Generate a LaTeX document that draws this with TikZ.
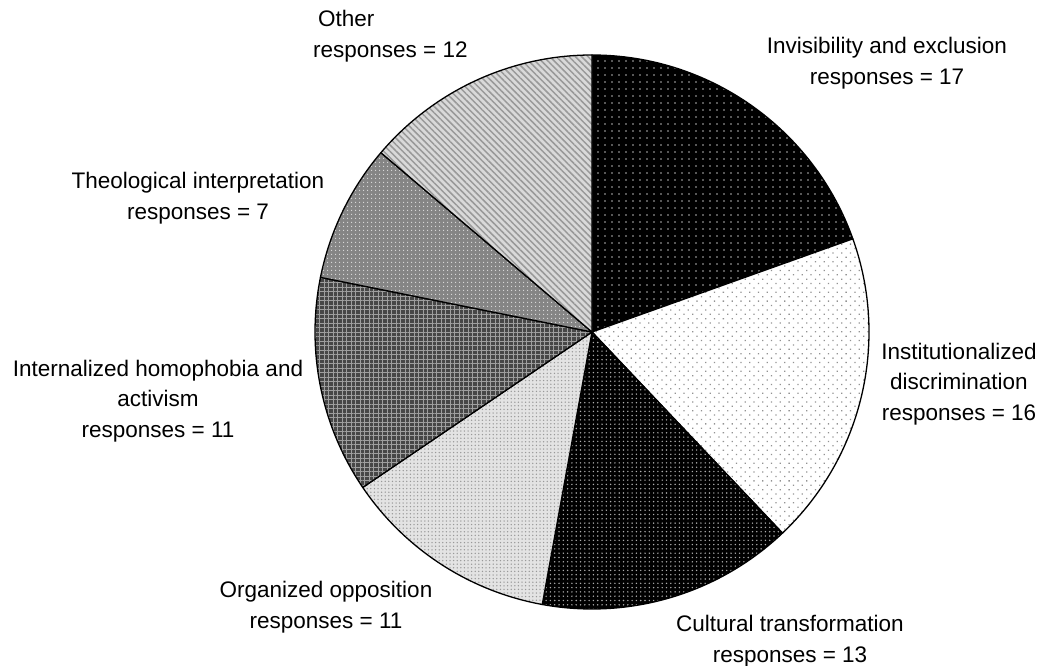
\documentclass[tikz,border=0pt]{standalone}
\usepackage{fontspec}
\setmainfont{Liberation Sans}
\usetikzlibrary{patterns.meta}
\begin{document}
\begin{tikzpicture}[x=1pt,y=1pt,
  slice/.style={draw=black, line width=1.3pt, line join=round},
  lab/.style={inner sep=0pt, align=center, font=\fontsize{22.5}{30.5}\selectfont},
  sA/.style={slice, preaction={fill=black}, pattern={Dots[distance=6.5pt,radius=0.9pt]}, pattern color=gray!60},
  sB/.style={slice, preaction={fill=white}, pattern={Dots[angle=45,distance=6.2pt,radius=0.9pt]}, pattern color=gray!85},
  sC/.style={slice, preaction={fill=black}, pattern={Dots[distance=4.3pt,radius=0.8pt]}, pattern color=gray!65},
  sD/.style={slice, preaction={fill=gray!22}, pattern={Dots[distance=3.6pt,radius=0.75pt]}, pattern color=gray!80},
  sE/.style={slice, preaction={fill=black!72}, pattern={Hatch[distance=4.5pt,line width=0.7pt]}, pattern color=gray!75},
  sF/.style={slice, preaction={fill=black!48}, pattern={Dots[distance=4pt,radius=0.8pt]}, pattern color=gray!25},
  sG/.style={slice, preaction={fill=gray!30}, pattern={Lines[angle=-45,distance=4.5pt,line width=1.5pt]}, pattern color=gray!80}
]
\useasboundingbox (0,0) rectangle (1039,665);
\coordinate (c) at (592,333);
\def\R{277}
% slices, clockwise from the top
\path[sA] (c) -- ++(90:\R) arc[start angle=90, end angle=19.655, radius=\R] -- cycle;
\path[sB] (c) -- ++(19.655:\R) arc[start angle=19.655, end angle=-46.552, radius=\R] -- cycle;
\path[sC] (c) -- ++(-46.552:\R) arc[start angle=-46.552, end angle=-100.345, radius=\R] -- cycle;
\path[sD] (c) -- ++(-100.345:\R) arc[start angle=-100.345, end angle=-145.862, radius=\R] -- cycle;
\path[sE] (c) -- ++(-145.862:\R) arc[start angle=-145.862, end angle=-191.379, radius=\R] -- cycle;
\path[sF] (c) -- ++(168.621:\R) arc[start angle=168.621, end angle=139.655, radius=\R] -- cycle;
\path[sG] (c) -- ++(139.655:\R) arc[start angle=139.655, end angle=90, radius=\R] -- cycle;
% labels
\node[lab] (inv) at (887,602) {Invisibility and exclusion\\responses = 17};
\node[lab] (inst) at (959,281) {Institutionalized\\discrimination\\responses = 16};
\node[lab] (cult) at (790,24) {Cultural transformation\\responses = 13};
\node[lab] (org) at (326,58) {Organized opposition\\responses = 11};
\node[lab] (intern) at (158,264) {Internalized homophobia and\\activism\\responses = 11};
\node[lab] (theo) at (198,467) {Theological interpretation\\responses = 7};
\node[lab, align=left, anchor=west] (other) at (313,629) {\hspace{5pt}Other\\responses = 12};
\end{tikzpicture}
\end{document}
